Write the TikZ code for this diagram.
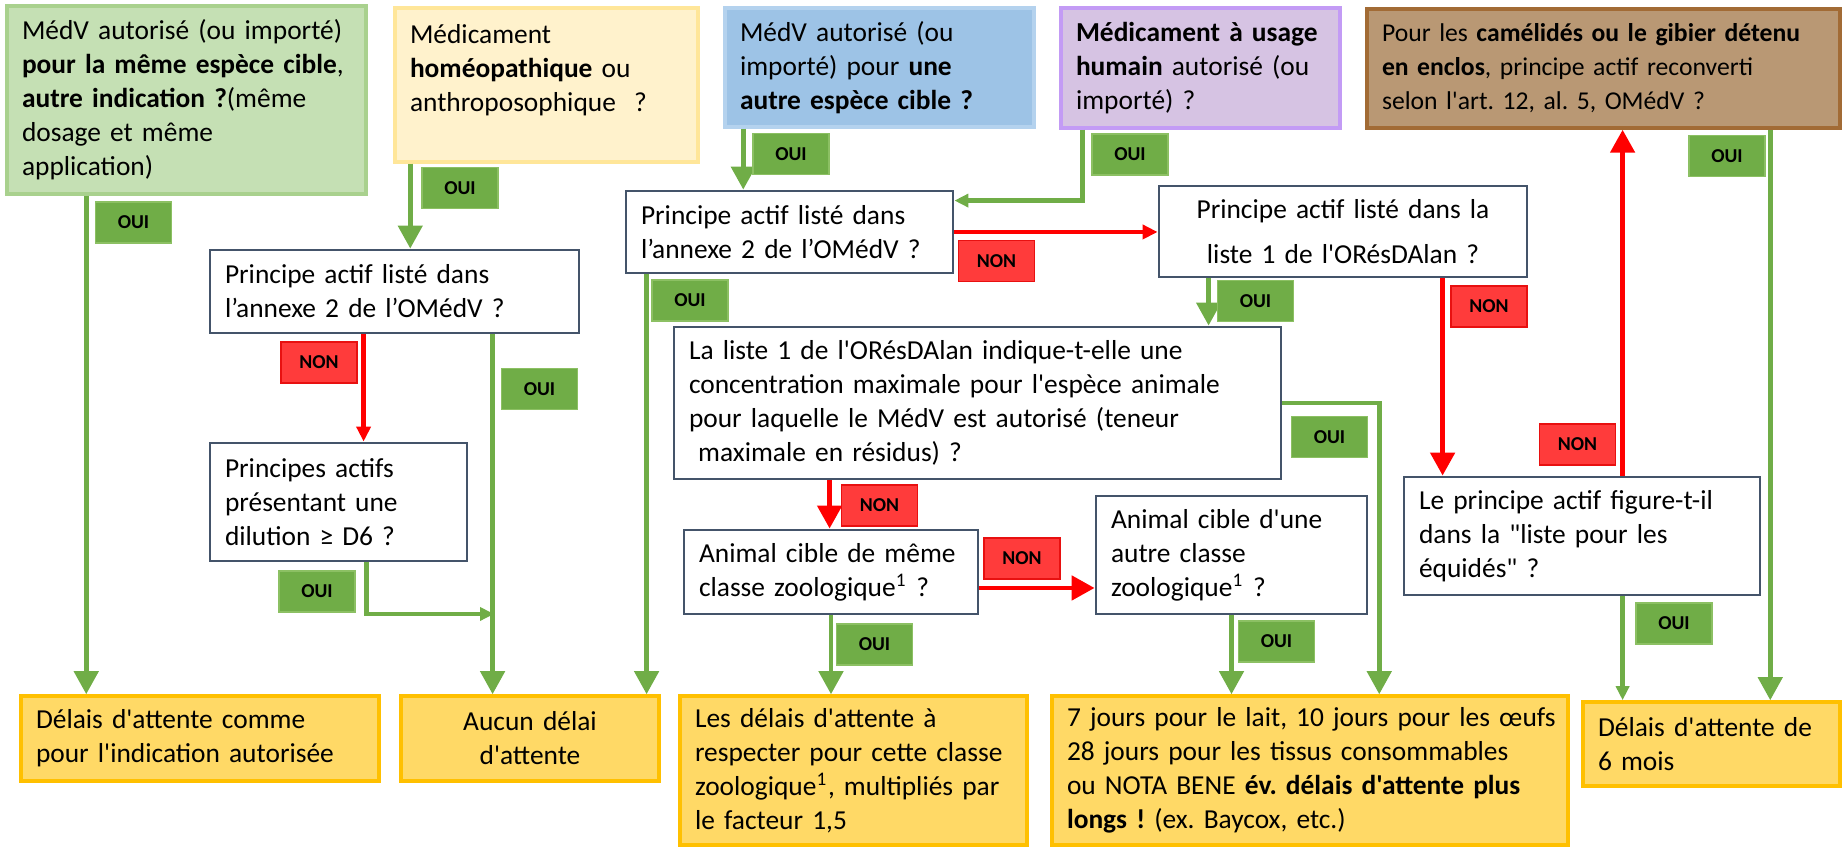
\documentclass[tikz,border=0pt]{standalone}
\usepackage{fontspec}
\setmainfont{Carlito}[Ligatures=TeXOff]
\usetikzlibrary{arrows.meta}
\frenchspacing

\definecolor{ouigreen}{HTML}{70AD47}
\definecolor{ouiedge}{HTML}{8CC063}
\definecolor{nonred}{HTML}{FF3B3B}
\definecolor{nonedge}{HTML}{E81010}
\definecolor{slate}{HTML}{44546A}
\definecolor{greenfill}{HTML}{C5E0B4}
\definecolor{greenedge}{HTML}{A9D18E}
\definecolor{creamfill}{HTML}{FFF2CC}
\definecolor{creamedge}{HTML}{FFE699}
\definecolor{bluefill}{HTML}{9DC3E6}
\definecolor{blueedge}{HTML}{B4D2EE}
\definecolor{lilacfill}{HTML}{D6C3E3}
\definecolor{lilacedge}{HTML}{C39BF5}
\definecolor{brownfill}{HTML}{B99874}
\definecolor{brownedge}{HTML}{A26B35}
\definecolor{resfill}{HTML}{FFD966}
\definecolor{resedge}{HTML}{FFC000}

\newcommand{\boxfont}{\fontsize{7.8pt}{9.7pt}\selectfont}
\newcommand{\smallboxfont}{\fontsize{7.3pt}{9.7pt}\selectfont}
\newcommand{\tagfont}{\fontsize{5.6pt}{6.5pt}\selectfont\bfseries}

\tikzset{
  qbox/.style={draw=slate, line width=0.8pt, fill=white, align=left,
    inner xsep=0.15cm, inner ysep=0pt, font=\boxfont},
  startbox/.style={qbox, line width=1pt},
  resbox/.style={qbox, draw=resedge, fill=resfill, line width=1pt},
  ouitag/.style={draw=ouiedge, fill=ouigreen, line width=0.5pt,
    minimum width=0.76cm, minimum height=0.41cm, inner sep=0pt, font=\tagfont},
  nontag/.style={ouitag, draw=nonedge, fill=nonred},
  ouiarrow/.style={draw=ouigreen, line width=1.3pt,
    -{Triangle[length=0.23cm,width=0.24cm]}},
  ouismall/.style={ouiarrow, -{Triangle[length=0.14cm,width=0.13cm]}},
  nonarrow/.style={draw=red, line width=1.4pt,
    -{Triangle[length=0.23cm,width=0.24cm]}},
  nonsmall/.style={nonarrow, -{Triangle[length=0.15cm,width=0.14cm]}}
}

\begin{document}
\begin{tikzpicture}
\useasboundingbox (0,0) rectangle (18.47,8.47);

% starting questions (top row)
\node[startbox, draw=greenedge, fill=greenfill, text width=3.29cm, minimum height=1.88cm] (medvsame) at (1.865,7.47)
  {MédV autorisé (ou importé)\\ \textbf{pour la même espèce cible},\\ \textbf{autre indication ?}(même\\ dosage et même\\ application)};
\node[startbox, draw=creamedge, fill=creamfill, text width=2.73cm, minimum height=1.54cm] (homeo) at (5.465,7.62)
  {Médicament\\ \textbf{homéopathique} ou\\ anthroposophique\ \ ?\\ \mbox{}};
\node[startbox, draw=blueedge, fill=bluefill, text width=2.79cm, minimum height=1.19cm] (medvother) at (8.795,7.795)
  {MédV autorisé (ou\\ importé) pour \textbf{une}\\ \textbf{autre espèce cible ?}};
\node[startbox, draw=lilacedge, fill=lilacfill, text width=2.49cm, minimum height=1.20cm] (human) at (12.005,7.79)
  {\textbf{Médicament à usage}\\ \textbf{humain} autorisé (ou\\ importé) ?};
\node[startbox, draw=brownedge, fill=brownfill, font=\smallboxfont, text width=4.43cm, minimum height=1.19cm] (camel) at (16.035,7.785)
  {\mbox{Pour les \textbf{camélidés ou le gibier détenu}}\\ \textbf{en enclos}, principe actif reconverti\\ selon l'art. 12, al. 5, OMédV ?};

% questions
\node[qbox, text width=3.39cm, minimum height=0.83cm] (annexleft) at (3.945,5.555)
  {Principe actif listé dans\\ l’annexe 2 de l’OMédV ?};
\node[qbox, text width=2.27cm, minimum height=1.18cm] (dilution) at (3.385,3.45)
  {Principes actifs\\ présentant une\\ dilution ≥ D6 ?};
\node[qbox, text width=2.97cm, minimum height=0.82cm] (annexmid) at (7.895,6.15)
  {Principe actif listé dans\\ l’annexe 2 de l’OMédV ?};
\node[qbox, align=center, text width=3.38cm, minimum height=0.91cm] (list1) at (13.43,6.155)
  {Principe actif listé dans la\\[3pt] liste 1 de l'ORésDAlan ?};
\node[qbox, text width=5.77cm, minimum height=1.52cm] (maxconc) at (9.775,4.44)
  {La liste 1 de l'ORésDAlan indique-t-elle une\\ concentration maximale pour l'espèce animale\\ pour laquelle le MédV est autorisé (teneur\\ \ maximale en résidus) ?};
\node[qbox, text width=2.64cm, minimum height=0.84cm] (sameclass) at (8.31,2.75)
  {Animal cible de même\\ classe zoologique\textsuperscript{1} ?};
\node[qbox, text width=2.41cm, minimum height=1.18cm] (otherclass) at (12.315,2.92)
  {Animal cible d'une\\ autre classe\\ zoologique\textsuperscript{1} ?};
\node[qbox, text width=3.26cm, minimum height=1.18cm] (equids) at (15.82,3.11)
  {Le principe actif figure-t-il\\ dans la "liste pour les\\ équidés" ?};

% withdrawal periods (bottom row)
\node[resbox, text width=3.28cm, minimum height=0.85cm] (resindic) at (2.00,1.085)
  {Délais d'attente comme\\ pour l'indication autorisée};
\node[resbox, align=center, text width=2.28cm, minimum height=0.85cm] (resnone) at (5.30,1.085)
  {Aucun délai\\ d'attente};
\node[resbox, text width=3.17cm, minimum height=1.49cm] (resfactor) at (8.535,0.765)
  {Les délais d'attente à\\ respecter pour cette classe\\ zoologique\textsuperscript{1}, multipliés par\\ le facteur 1,5};
\node[resbox, text width=4.86cm, minimum height=1.49cm] (resdays) at (13.10,0.765)
  {\mbox{7 jours pour le lait, 10 jours pour les œufs}\\ 28 jours pour les tissus consommables\\ \mbox{ou NOTA BENE \textbf{év. délais d'attente plus}}\\ \textbf{longs !} (ex. Baycox, etc.)};
\node[resbox, text width=2.27cm, minimum height=0.84cm] (ressix) at (17.115,1.03)
  {Délais d'attente de\\ 6 mois};

\coordinate (dilujoin) at (4.94,2.33);

% connectors
\draw[ouiarrow] ([xshift=0.81cm]medvsame.south west) -- ([xshift=0.81cm]medvsame.south west |- resindic.north);
\draw[ouiarrow] ([xshift=0.17cm]homeo.south west) -- ([xshift=0.17cm]homeo.south west |- annexleft.north);
\draw[ouiarrow] ([xshift=0.20cm]medvother.south west) -- ([xshift=0.20cm]medvother.south west |- annexmid.north);
\draw[ouismall] ([xshift=0.23cm]human.south west) |- ([yshift=-0.11cm]annexmid.north east);
\draw[ouiarrow] ([xshift=4.05cm]camel.south west) -- ([xshift=4.05cm]camel.south west |- ressix.north);

\draw[nonsmall] ([xshift=1.55cm]annexleft.south west) -- ([xshift=1.55cm]annexleft.south west |- dilution.north);
\draw[ouiarrow] ([xshift=2.84cm]annexleft.south west) -- ([xshift=2.84cm]annexleft.south west |- resnone.north);
\draw[ouismall] ([xshift=1.58cm]dilution.south west) |- (dilujoin);

\draw[nonsmall] (annexmid.east) -- (annexmid.east -| list1.west);
\draw[ouiarrow] ([xshift=0.22cm]annexmid.south west) -- ([xshift=0.22cm]annexmid.south west |- resnone.north);

\draw[ouiarrow] ([xshift=0.51cm]list1.south west) -- ([xshift=0.51cm]list1.south west |- maxconc.north);
\draw[nonarrow] ([xshift=2.85cm]list1.south west) -- ([xshift=2.85cm]list1.south west |- equids.north);

\draw[nonarrow] ([xshift=1.57cm]maxconc.south west) -- ([xshift=1.57cm]maxconc.south west |- sameclass.north);
\draw[ouiarrow] (maxconc.east) -| ([xshift=3.29cm]resdays.north west);

\draw[nonarrow] ([yshift=-0.16cm]sameclass.east) -- ([yshift=-0.16cm]sameclass.east -| otherclass.west);
\draw[ouiarrow] (sameclass.south) -- (sameclass.south |- resfactor.north);
\draw[ouiarrow] (otherclass.south) -- (otherclass.south |- resdays.north);

\draw[nonarrow] ([xshift=2.20cm]equids.north west) -- ([xshift=2.20cm]equids.north west |- camel.south);
\draw[ouismall] ([xshift=2.20cm]equids.south west) -- ([xshift=2.20cm]equids.south west |- ressix.north);

% answer tags
\node[ouitag] (ouisame) at (1.335,6.245) {OUI};
\node[ouitag] (ouihomeo) at (4.60,6.59) {OUI};
\node[ouitag] (ouiother) at (7.91,6.93) {OUI};
\node[ouitag] (ouihuman) at (11.30,6.925) {OUI};
\node[ouitag] (ouicamel) at (17.27,6.91) {OUI};
\node[nontag] (nonannexl) at (3.19,4.845) {NON};
\node[ouitag] (ouiannexl) at (5.395,4.58) {OUI};
\node[ouitag] (ouidilu) at (3.17,2.555) {OUI};
\node[nontag] (nonannexm) at (9.965,5.86) {NON};
\node[ouitag] (ouiannexm) at (6.90,5.465) {OUI};
\node[ouitag] (ouilist) at (12.555,5.46) {OUI};
\node[nontag] (nonlist) at (14.89,5.405) {NON};
\node[nontag] (nonconc) at (8.795,3.415) {NON};
\node[ouitag] (ouiconc) at (13.295,4.10) {OUI};
\node[nontag] (nonsame) at (10.22,2.885) {NON};
\node[ouitag] (ouisameclass) at (8.745,2.025) {OUI};
\node[ouitag] (ouiotherclass) at (12.765,2.055) {OUI};
\node[nontag] (nonequids) at (15.775,4.025) {NON};
\node[ouitag] (ouiequids) at (16.74,2.235) {OUI};

\end{tikzpicture}
\end{document}
